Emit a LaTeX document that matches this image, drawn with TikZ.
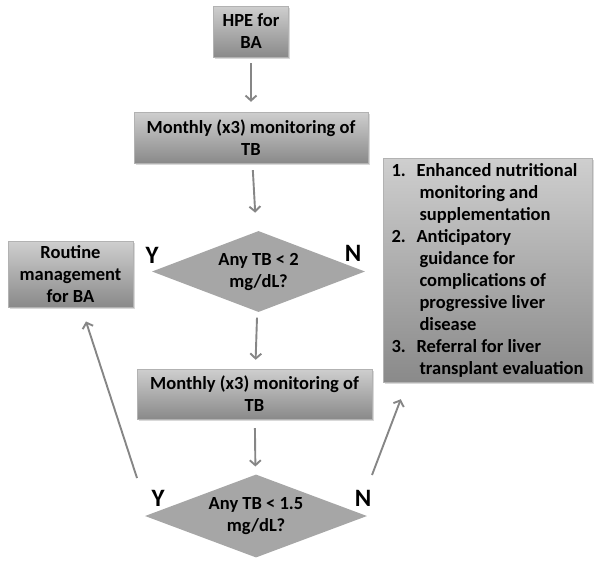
\documentclass[tikz,border=0pt]{standalone}
\usepackage{fontspec}
\setmainfont{Carlito}
\usetikzlibrary{shapes.geometric,shadows,arrows.meta}

\tikzset{
  box/.style={top color=gray!38,bottom color=gray!92,draw=gray!60,thin,
    align=center,inner sep=2pt,font=\bfseries\fontsize{18.5}{22}\selectfont,
    drop shadow={shadow xshift=1.5pt,shadow yshift=-2pt,opacity=0.3}},
  dec/.style={diamond,fill=gray!70,inner sep=0pt},
  dtext/.style={align=center,font=\bfseries\fontsize{18.5}{22}\selectfont},
  yn/.style={font=\bfseries\fontsize{25}{25}\selectfont},
  flow/.style={draw=gray!95,line width=1.9pt,
    -{Straight Barb[length=5pt,width=11pt]}}
}
\newcommand{\itemno}[1]{\makebox[25pt][l]{#1}}
\newcommand{\itemgo}{\hspace*{28pt}}

\begin{document}
\begin{tikzpicture}[x=1pt,y=-1pt]
\useasboundingbox (0,0) rectangle (601,563);
\path
    (251,31.5) node [box,minimum width=75pt,minimum height=51pt] (hpe) {HPE for\\BA}
    (251,137.5) node [box,minimum width=234pt,minimum height=51pt] (mon1) {Monthly (x3) monitoring of\\TB}
    (258.5,271.5) node [dec,minimum width=213pt,minimum height=81pt] (d1) {}
    (70.5,274) node [box,minimum width=125pt,minimum height=66pt] (rout) {Routine\\management\\for BA}
    (254.5,394) node [box,minimum width=235pt,minimum height=50pt] (mon2) {Monthly (x3) monitoring of\\TB}
    (256,516) node [dec,minimum width=222pt,minimum height=83pt] (d2) {}
    (487.5,270) node [box,minimum width=209pt,minimum height=224pt,align=left] (plan)
      {\itemno{1.}Enhanced nutritional\\
       \itemgo monitoring and\\
       \itemgo supplementation\\
       \itemno{2.}Anticipatory\\
       \itemgo guidance for\\
       \itemgo complications of\\
       \itemgo progressive liver\\
       \itemgo disease\\
       \itemno{3.}Referral for liver\\
       \itemgo transplant evaluation};
\node [dtext] (d1txt) at (d1) {Any TB < 2\\mg/dL?};
\node [dtext] (d2txt) at (d2) {Any TB < 1.5\\mg/dL?};
\node [yn] (y1) at (152,255) {Y};
\node [yn] (n1) at (353,253) {N};
\node [yn] (y2) at (158,498) {Y};
\node [yn] (n2) at (363,498) {N};
% connectors
\draw [flow,shorten <=6pt,shorten >=10pt] (hpe) -- (mon1);
\draw [flow,shorten <=7pt,shorten >=19pt] (mon1) -- (d1);
\draw [flow,shorten <=6pt,shorten >=9pt] (d1) -- (mon2);
\draw [flow,shorten <=9pt,shorten >=8pt] (mon2) -- (d2);
\coordinate (yfoot) at (137,478);
\draw [flow,shorten >=15pt] (yfoot) -- (rout);
\coordinate (nfoot) at (372,475);
\coordinate (ntip) at ([shift={(18,17)}]plan.south west);
\draw [flow] (nfoot) -- (ntip);
\end{tikzpicture}
\end{document}
